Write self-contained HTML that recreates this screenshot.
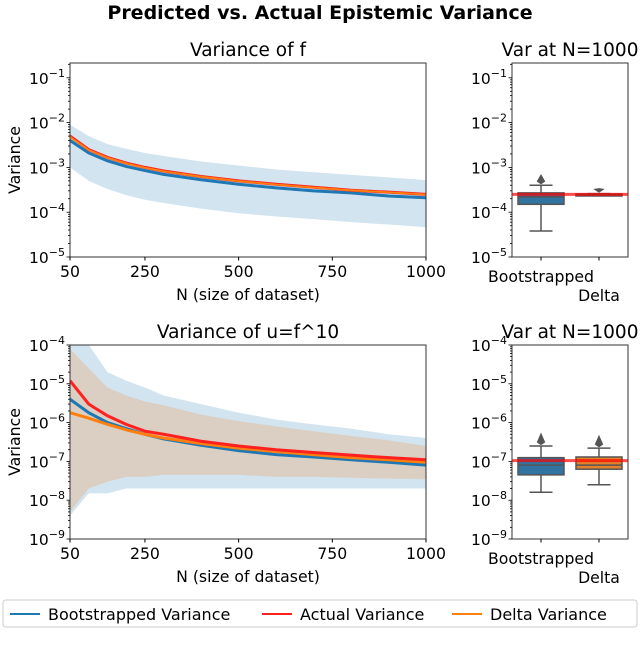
<!DOCTYPE html>
<html><head><meta charset="utf-8"><style>
body{margin:0;background:#fff;}
svg text{font-family:"DejaVu Sans","Liberation Sans",sans-serif;fill:#000;}
</style></head><body>
<svg id="c" width="640" height="642" viewBox="0 0 640 642" xmlns="http://www.w3.org/2000/svg"></svg>
<script>
const Ns=[50,100,150,200,250,300,400,500,600,700,800,900,1000];
const fActual=[5e-3,2.5e-3,1.67e-3,1.25e-3,1e-3,8.3e-4,6.25e-4,5e-4,4.2e-4,3.6e-4,3.1e-4,2.8e-4,2.5e-4];
const fBoot=[4e-3,2.1e-3,1.4e-3,1.05e-3,8.5e-4,7e-4,5.3e-4,4.2e-4,3.5e-4,3e-4,2.7e-4,2.3e-4,2.1e-4];
const fDelta=[4.8e-3,2.45e-3,1.64e-3,1.23e-3,9.8e-4,8.2e-4,6.2e-4,4.95e-4,4.15e-4,3.55e-4,3.08e-4,2.78e-4,2.48e-4];
const fBandUp=[9e-3,5e-3,3.3e-3,2.6e-3,2.1e-3,1.8e-3,1.35e-3,1.1e-3,9e-4,7.8e-4,6.8e-4,6e-4,5.2e-4];
const fBandLo=[1e-3,5e-4,3.3e-4,2.4e-4,1.9e-4,1.6e-4,1.2e-4,9.5e-5,8e-5,7e-5,6e-5,5.3e-5,4.6e-5];
const uActual=[1.2e-5,3e-6,1.5e-6,9e-7,6e-7,5e-7,3.3e-7,2.5e-7,2e-7,1.7e-7,1.45e-7,1.25e-7,1.1e-7];
const uBoot=[4e-6,1.8e-6,1e-6,7e-7,5e-7,3.8e-7,2.6e-7,1.9e-7,1.5e-7,1.3e-7,1.1e-7,9.5e-8,8e-8];
const uDelta=[1.8e-6,1.3e-6,9e-7,6.5e-7,5e-7,4e-7,2.9e-7,2.2e-7,1.8e-7,1.5e-7,1.25e-7,1.1e-7,9.5e-8];
const uBootUp=[1e-4,1e-4,2e-5,1.2e-5,8e-6,5e-6,3e-6,1.8e-6,1.2e-6,9e-7,7e-7,5e-7,4e-7];
const uBootLo=[4e-9,1.5e-8,1.5e-8,2e-8,2e-8,2e-8,2e-8,2e-8,2e-8,2e-8,2e-8,2e-8,2e-8];
const uDeltaUp=[8e-5,2.5e-5,8e-6,5e-6,3.5e-6,2.8e-6,1.6e-6,1.1e-6,8e-7,6e-7,4.5e-7,3.5e-7,2.5e-7];
const uDeltaLo=[5e-9,2e-8,3e-8,4e-8,4e-8,4.5e-8,4.5e-8,4.5e-8,4e-8,4e-8,3.8e-8,3.6e-8,3.5e-8];
const xTicks=[50,250,500,750,1000];
const boxCats=["Bootstrapped","Delta"];
// [whiskLo,q1,median,q3,whiskHi,outlierHi]
const fBoxes=[[3.8e-5,1.5e-4,2.2e-4,2.7e-4,4e-4,5.5e-4],[2.35e-4,2.45e-4,2.5e-4,2.55e-4,2.6e-4,2.8e-4]];
const uBoxes=[[1.6e-8,4.5e-8,8e-8,1.25e-7,2.5e-7,4e-7],[2.5e-8,6.3e-8,8e-8,1.3e-7,2.2e-7,3.5e-7]];
const fActualEnd=2.5e-4, uActualEnd=1.05e-7;

const svg=document.getElementById('c');const NS="http://www.w3.org/2000/svg";
function el(t,a,p){const e=document.createElementNS(NS,t);for(const k in a)e.setAttribute(k,a[k]);(p||svg).appendChild(e);return e;}
function txt(s,x,y,a,p){const e=el('text',Object.assign({x:x,y:y},a),p);e.textContent=s;return e;}

function logAxis(x0,x1,top,bot,lo,hi){return v=>bot-(Math.log10(v)-lo)/(hi-lo)*(bot-top);}
function drawYAxis(x0,x1,top,bot,lo,hi,y,name){
  const g=el('g',{});
  for(let d=Math.floor(lo);d<=Math.ceil(hi);d++){
    for(let m=1;m<10;m++){const v=m*Math.pow(10,d);const lv=Math.log10(v);if(lv<lo-1e-9||lv>hi+1e-9)continue;
      const yy=y(v);el('line',{x1:x0,x2:x0-(m==1?3.5:2),y1:yy,y2:yy,stroke:'#000','stroke-width':0.8},g);
      if(m==1){const t=el('text',{x:x0-5,y:yy+6,'font-size':15.5,'text-anchor':'end'},g);
        const a=el('tspan',{},t);a.textContent='10';
        const s=el('tspan',{dy:-7,'font-size':11},t);s.textContent='−'+Math.abs(d);}
    }}
}
function frame(x0,x1,top,bot,name){const r=el('rect',{x:x0,y:top,width:x1-x0,height:bot-top,fill:'none',stroke:'#333','stroke-width':1});}
function linePlot(ys,xf,yf,color,w,name,clip){const p=el('polyline',{points:Ns.map((n,i)=>xf(n)+','+yf(ys[i])).join(' '),fill:'none',stroke:color,'stroke-width':w,'clip-path':clip});}
function band(up,lo,xf,yf,color,name,clip){const pts=Ns.map((n,i)=>xf(n)+','+yf(up[i])).concat(Ns.map((n,i)=>xf(n)+','+yf(lo[i])).reverse());const p=el('polygon',{points:pts.join(' '),fill:color,'clip-path':clip});}

const defs=el('defs',{});
function clip(id,x,y,w,h){const c=el('clipPath',{id:id},defs);el('rect',{x:x,y:y,width:w,height:h},c);return 'url(#'+id+')';}

txt('Predicted vs. Actual Epistemic Variance',320,19,{'font-size':19,'font-weight':'bold','text-anchor':'middle'});

function linePanel(top,bot,lo,hi,title,series,bandsDef,pfx){
  const x0=70,x1=426;const xf=n=>x0+(n-50)/950*(x1-x0);const y=logAxis(x0,x1,top,bot,lo,hi);
  const cp=clip(pfx+'clip',x0,top,x1-x0,bot-top);
  bandsDef.forEach(b=>band(b[0],b[1],xf,y,b[2],b[3],cp));
  series.forEach(s=>linePlot(s[0],xf,y,s[1],s[2],s[3],cp));
  frame(x0,x1,top,bot,pfx+'-plot-area');
  drawYAxis(x0,x1,top,bot,lo,hi,y,pfx+'-y-axis');
  xTicks.forEach(t=>{el('line',{x1:xf(t),x2:xf(t),y1:bot,y2:bot+3.5,stroke:'#000'});const e=txt(String(t),xf(t),bot+20,{'font-size':15.7,'text-anchor':'middle'});});
  txt('N (size of dataset)',248,bot+43,{'font-size':15.7,'text-anchor':'middle'});
  const yl=txt('Variance',20,(top+bot)/2,{'font-size':15.7,'text-anchor':'middle',transform:'rotate(-90 20 '+(top+bot)/2+')'});
  txt(title,248,top-7,{'font-size':18.5,'text-anchor':'middle'});
}
function boxPanel(top,bot,lo,hi,boxes,actual,pfx){
  const x0=512,x1=628;const y=logAxis(x0,x1,top,bot,lo,hi);const cx=[541,599];const cols=['#3274a1','#e1812c'];
  const cp=clip(pfx+'clip',x0,top,x1-x0,bot-top);
  boxes.forEach((b,i)=>{const g=el('g',{'clip-path':cp});
    const c=cx[i],hw=23;
    el('line',{x1:c,x2:c,y1:y(b[0]),y2:y(b[1]),stroke:'#555','stroke-width':1.5},g);
    el('line',{x1:c,x2:c,y1:y(b[3]),y2:y(b[4]),stroke:'#555','stroke-width':1.5},g);
    el('line',{x1:c-hw/2,x2:c+hw/2,y1:y(b[0]),y2:y(b[0]),stroke:'#555','stroke-width':1.5},g);
    el('line',{x1:c-hw/2,x2:c+hw/2,y1:y(b[4]),y2:y(b[4]),stroke:'#555','stroke-width':1.5},g);
    el('rect',{x:c-hw,y:y(b[3]),width:2*hw,height:Math.max(2,y(b[1])-y(b[3])),fill:cols[i],stroke:'#555','stroke-width':1.5},g);
    el('line',{x1:c-hw,x2:c+hw,y1:y(b[2]),y2:y(b[2]),stroke:'#555','stroke-width':1.5},g);
    el('path',{d:`M${c} ${y(b[5])-3} L${c+3} ${y(b[4])-4} L${c} ${y(b[4])-2} L${c-3} ${y(b[4])-4}Z`,fill:'#555',stroke:'#555','stroke-width':2},g);
  });
  const al=el('line',{x1:x0,x2:x1,y1:y(actual),y2:y(actual),stroke:'#ff0000','stroke-opacity':0.7,'stroke-width':3});
  frame(x0,x1,top,bot,pfx+'-plot-area');
  drawYAxis(x0,x1,top,bot,lo,hi,y,pfx+'-y-axis');
  boxCats.forEach((c,i)=>{el('line',{x1:cx[i],x2:cx[i],y1:bot,y2:bot+3.5,stroke:'#000'});txt(c,cx[i],bot+(i?44:25),{'font-size':15.7,'text-anchor':'middle'});});
  txt('Var at N=1000',570,top-7,{'font-size':18.5,'text-anchor':'middle'});
}
const fLo=-5,fHi=-5+194/44.8;
linePanel(63,257,fLo,fHi,'Variance of f',[[fBoot,'#1f77b4',3,'f-bootstrapped-line'],[fActual,'#ff2020',3,'f-actual-line'],[fDelta,'#ff7f0e',1.8,'f-delta-line']],[[fBandUp,fBandLo,'rgba(31,119,180,0.2)','f-bootstrapped-band']],'f');
linePanel(345,539,-9,-4,'Variance of u=f^10',[[uBoot,'#1f77b4',3,'u-bootstrapped-line'],[uDelta,'#ff7f0e',3,'u-delta-line'],[uActual,'#ff2020',3,'u-actual-line']],[[uBootUp,uBootLo,'rgba(31,119,180,0.2)','u-bootstrapped-band'],[uDeltaUp,uDeltaLo,'rgba(255,127,14,0.2)','u-delta-band']],'u');
boxPanel(63,257,fLo,fHi,fBoxes,fActualEnd,'fbox');
boxPanel(345,539,-9,-4,uBoxes,uActualEnd,'ubox');

const lg=el('g',{});
el('rect',{x:3,y:600,width:634,height:27,rx:3,fill:'#fff',stroke:'#ccc'},lg);
[['Bootstrapped Variance','#1f77b4',10],['Actual Variance','#ff2020',262],['Delta Variance','#ff7f0e',452]].forEach(e=>{
  const g=el('g',{},lg);
  el('line',{x1:e[2],x2:e[2]+30,y1:614,y2:614,stroke:e[1],'stroke-width':2},g);
  txt(e[0],e[2]+38,620,{'font-size':16,},g);
});
</script>
</body></html>
